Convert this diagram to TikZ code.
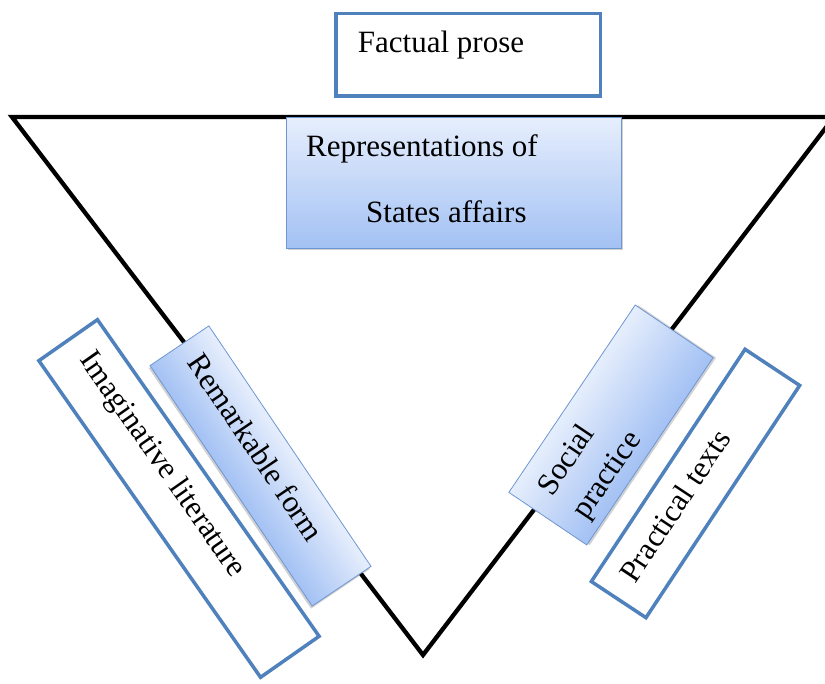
\documentclass[tikz,border=0pt]{standalone}
\usepackage{fontspec}
\setmainfont{Liberation Serif}
\usetikzlibrary{calc}
\definecolor{boxblue}{RGB}{79,129,189}
\definecolor{gradtop}{RGB}{230,238,252}
\definecolor{gradbot}{RGB}{164,194,244}
\definecolor{gradedge}{RGB}{110,150,210}
\tikzset{
  whitebox/.style={draw=boxblue, line width=3.5pt, fill=white, inner sep=0pt, outer sep=0pt},
  gradbox/.style={draw=gradedge, line width=0.8pt, inner sep=0pt, outer sep=0pt},
  lbl/.style={font=\fontsize{31}{42}\selectfont, inner sep=0pt, text=black},
  triline/.style={line width=4.3pt, draw=black, line join=miter},
}
% gradient body (light top, dark bottom) of a w x h box centred at the local origin
\newcommand{\gradfill}[2]{%
  \fill[black, opacity=0.18] ({-#1/2+1.5},{-#2/2-2.5}) rectangle ({#1/2+1.5},{#2/2-2.5});
  \foreach \i in {0,...,39}{%
    \pgfmathsetmacro\pmix{100*\i/39}%
    \fill[gradtop!\pmix!gradbot] ({-#1/2},{-#2/2+\i*#2/40}) rectangle ({#1/2},{min(#2/2,-#2/2+(\i+1)*#2/40+0.5)});
  }%
}
\begin{document}
\begin{tikzpicture}[x=1pt,y=1pt]
\useasboundingbox (0,0) rectangle (825,684);
\clip (0,0) rectangle (825,684);
\fill[white] (0,0) rectangle (825,684);
% triangle
\coordinate (tl) at (12,567);
\coordinate (bv) at (423,29);
\coordinate (tr) at (834,567);
\draw[triline] (tl) -- (bv) -- (tr) -- cycle;

% Factual prose
\node[whitebox, minimum width=264.5pt, minimum height=82.5pt] (fp) at (468,629) {};
\node[lbl, anchor=base west] (fpt) at ($(fp.north west)+(22,-39)$) {Factual prose};

% Representations of States affairs
\begin{scope}[shift={(453.5,501.5)}]
  \gradfill{335}{131}
  \node[gradbox, minimum width=335pt, minimum height=131pt] (rep) at (0,0) {};
\end{scope}
\node[lbl, anchor=base west] (rept1) at ($(rep.north west)+(20,-40)$) {Representations of};
\node[lbl, anchor=base west] (rept2) at ($(rep.north west)+(80,-106)$) {States affairs};

% Imaginative literature
\begin{scope}[shift={(179,185.5)}, rotate=-55, transform shape]
  \node[whitebox, minimum width=386.5pt, minimum height=71.5pt] (il) at (0,0) {};
  \node[lbl] (ilt) at (-37,5) {Imaginative literature};
\end{scope}

% Remarkable form
\begin{scope}[shift={(260.5,218)}, rotate=-56, transform shape]
  \gradfill{290}{71}
  \node[gradbox, minimum width=290pt, minimum height=71pt] (rf) at (0,0) {};
  \node[lbl] (rft) at (-18,7) {Remarkable form};
\end{scope}

% Social practice
\begin{scope}[shift={(611,259)}, rotate=56, transform shape]
  \gradfill{226}{94}
  \node[gradbox, minimum width=226pt, minimum height=94pt] (sp) at (0,0) {};
  \node[lbl, align=left, anchor=west] (spt) at (-93,-5) {Social\\practice};
\end{scope}

% Practical texts
\begin{scope}[shift={(695.5,200.5)}, rotate=56.5, transform shape]
  \node[whitebox, minimum width=278.5pt, minimum height=65.5pt] (pt) at (0,0) {};
  \node[lbl] (ptt) at (-30,5) {Practical texts};
\end{scope}
\end{tikzpicture}
\end{document}
